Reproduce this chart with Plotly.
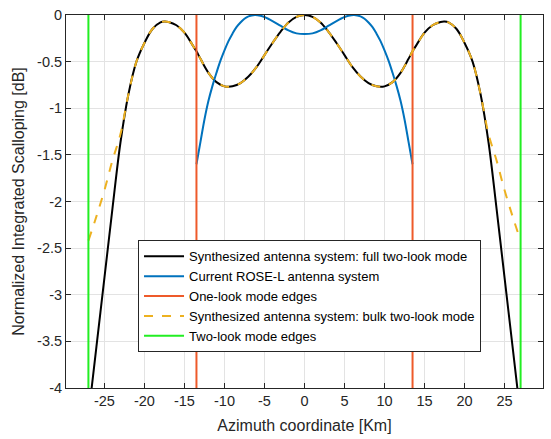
import plotly.graph_objects as go

# ---- data ----
az_full = [-27, -26, -25, -24, -23, -22, -21, -20, -19, -18, -17.5, -17, -16, -15, -14, -13.5,
           -13, -12, -11, -10, -9.5, -9, -8, -7, -6, -5, -4, -3, -2, -1, 0,
           1, 2, 3, 4, 5, 6, 7, 8, 9, 9.5, 10, 11, 12, 13, 13.5,
           14, 15, 16, 17, 17.5, 18, 19, 20, 21, 22, 23, 24, 25, 26, 27]
scal_full = [-4.30, -3.56, -2.82, -2.08, -1.37, -0.85, -0.50, -0.30, -0.15, -0.08, -0.07, -0.075, -0.11, -0.19, -0.32, -0.39,
             -0.47, -0.62, -0.72, -0.765, -0.77, -0.765, -0.73, -0.66, -0.56, -0.43, -0.30, -0.18, -0.08, -0.02, 0.0,
             -0.02, -0.08, -0.18, -0.30, -0.43, -0.56, -0.66, -0.73, -0.765, -0.77, -0.765, -0.72, -0.62, -0.47, -0.39,
             -0.32, -0.19, -0.11, -0.075, -0.07, -0.08, -0.15, -0.30, -0.50, -0.85, -1.37, -2.08, -2.82, -3.56, -4.30]

az_bulk = az_full
scal_bulk = [-2.42, -2.16, -1.88, -1.56, -1.28, -0.85, -0.50, -0.30, -0.15, -0.08, -0.07, -0.075, -0.11, -0.19, -0.32, -0.39,
             -0.47, -0.62, -0.72, -0.765, -0.77, -0.765, -0.73, -0.66, -0.56, -0.43, -0.30, -0.18, -0.08, -0.02, 0.0,
             -0.02, -0.08, -0.18, -0.30, -0.43, -0.56, -0.66, -0.73, -0.765, -0.77, -0.765, -0.72, -0.62, -0.47, -0.39,
             -0.32, -0.19, -0.11, -0.075, -0.07, -0.08, -0.15, -0.30, -0.50, -0.85, -1.28, -1.56, -1.88, -2.16, -2.42]

az_rose = [-13.5, -13, -12.5, -12, -11.5, -11, -10.5, -10, -9.5, -9, -8.5, -8, -7.5, -7, -6.2, -5.5, -5, -4, -3, -2, -1, 0,
           1, 2, 3, 4, 5, 5.5, 6.2, 7, 7.5, 8, 8.5, 9, 9.5, 10, 10.5, 11, 11.5, 12, 12.5, 13, 13.5]
scal_rose = [-1.60, -1.36, -1.12, -0.92, -0.76, -0.62, -0.49, -0.38, -0.28, -0.20, -0.13, -0.08, -0.04, -0.015, 0.0, -0.008,
             -0.022, -0.065, -0.115, -0.165, -0.197, -0.205,
             -0.197, -0.165, -0.115, -0.065, -0.022, -0.008, 0.0, -0.015, -0.04, -0.08, -0.13, -0.20, -0.28, -0.38, -0.49,
             -0.62, -0.76, -0.92, -1.12, -1.36, -1.60]

one_look_edges = [-13.5, 13.5]
two_look_edges = [-27, 27]

x_ticks = [-25, -20, -15, -10, -5, 0, 5, 10, 15, 20, 25]
x_tick_text = ["-25", "-20", "-15", "-10", "-5", "0", "5", "10", "15", "20", "25"]
y_ticks = [0, -0.5, -1, -1.5, -2, -2.5, -3, -3.5, -4]
y_tick_text = ["0", "-0.5", "-1", "-1.5", "-2", "-2.5", "-3", "-3.5", "-4"]

y_lo, y_hi = -4, 0


def vlines(xs):
    vx, vy = [], []
    for x in xs:
        vx += [x, x, None]
        vy += [y_lo, y_hi, None]
    return vx, vy


fig = go.Figure()
fig.add_trace(go.Scatter(x=az_full, y=scal_full, mode="lines", line=dict(color="black", width=2, shape="spline"),
                         name="Synthesized antenna system: full two-look mode"))
fig.add_trace(go.Scatter(x=az_rose, y=scal_rose, mode="lines", line=dict(color="#0072BD", width=2, shape="spline"),
                         name="Current ROSE-L antenna system"))
vx, vy = vlines(one_look_edges)
fig.add_trace(go.Scatter(x=vx, y=vy, mode="lines", line=dict(color="#EE5A2A", width=2),
                         name="One-look mode edges"))
fig.add_trace(go.Scatter(x=az_bulk, y=scal_bulk, mode="lines",
                         line=dict(color="#EDB120", width=2, dash="dash", shape="spline"),
                         name="Synthesized antenna system: bulk two-look mode"))
vx, vy = vlines(two_look_edges)
fig.add_trace(go.Scatter(x=vx, y=vy, mode="lines", line=dict(color="#22EE22", width=2),
                         name="Two-look mode edges"))

axis_common = dict(showgrid=True, gridcolor="#e3e3e3", gridwidth=1, showline=True, linecolor="#262626",
                   linewidth=1, mirror="ticks", ticks="inside", ticklen=5, tickcolor="#262626",
                   zeroline=False, tickfont=dict(family="Liberation Sans, Arial", size=14.5, color="#262626"))

fig.update_layout(
    width=551, height=439,
    margin=dict(l=66, r=7, t=13, b=50),
    plot_bgcolor="white", paper_bgcolor="white",
    font=dict(family="Liberation Sans, Arial", color="#262626"),
    xaxis=dict(range=[-29.8, 29.8], tickvals=x_ticks, ticktext=x_tick_text,
               title=dict(text="Azimuth coordinate [Km]", font=dict(size=16), standoff=11), **axis_common),
    yaxis=dict(range=[y_lo, y_hi], tickvals=y_ticks, ticktext=y_tick_text,
               title=dict(text="Normalized Integrated Scalloping [dB]", font=dict(size=16), standoff=8), **axis_common),
    legend=dict(x=0.151, y=0.396, xanchor="left", yanchor="top", bgcolor="white",
                bordercolor="#262626", borderwidth=1, font=dict(size=13, color="black"),
                itemwidth=40, tracegroupgap=0),
    showlegend=True,
)

fig.write_html("out.html")
